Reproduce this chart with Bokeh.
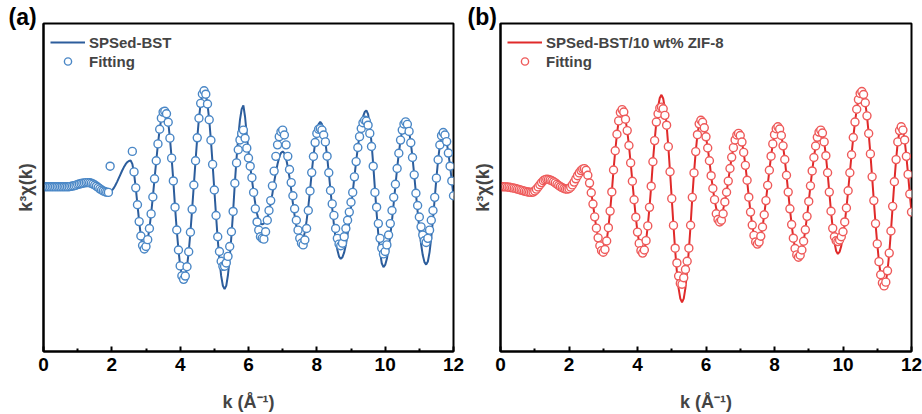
from bokeh.plotting import figure
from bokeh.layouts import row
from bokeh.models import Legend, LegendItem, FixedTicker, ColumnDataSource, Title
from bokeh.embed import file_html
from bokeh.resources import INLINE

nan = float("nan")

# k grid (Å^-1), sampled every 0.05
K_STEP = 0.05
K = [round(i * K_STEP, 2) for i in range(241)]

X_TICKS = [0, 2, 4, 6, 8, 10, 12]
X_MINOR = [1, 3, 5, 7, 9, 11]

LABEL_A = "SPSed-BST"
LABEL_B = "SPSed-BST/10 wt% ZIF-8"
FIT_LABEL = "Fitting"

# panel (a): measured k^3 chi(k)
A_LINE = [
    0.05, 0.05, 0.05, 0.05, 0.05, 0.05, 0.05, 0.05, 0.05, 0.05, 0.05, 0.05, 0.05, 0.05, 0.05, 0.05, 0.07, 0.09, 0.11, 0.14,
    0.18, 0.21, 0.24, 0.26, 0.28, 0.3, 0.3, 0.29, 0.26, 0.21, 0.15, 0.08, 0.0, -0.08, -0.15, -0.21, -0.26, -0.29, -0.3, -0.27,
    -0.19, -0.06, 0.12, 0.33, 0.56, 0.79, 1.02, 1.23, 1.41, 1.54, 1.62, 1.65, 1.44, 0.86, -0.02, -1.05, -2.08, -2.96, -3.54, -3.75,
    -3.6, -3.18, -2.5, -1.61, -0.58, 0.53, 1.63, 2.66, 3.55, 4.23, 4.65, 4.8, 4.59, 3.98, 3.01, 1.79, 0.40, -1.20, -2.59, -3.81,
    -4.78, -5.39, -5.6, -5.40, -4.83, -3.92, -2.73, -1.33, 0.15, 1.63, 3.03, 4.22, 5.13, 5.70, 5.9, 5.69, 5.09, 4.13, 2.88, 1.41,
    -0.15, -1.71, -3.18, -4.43, -5.39, -5.99, -6.2, -5.98, -5.32, -4.27, -2.96, -1.46, 0.26, 1.76, 3.07, 4.12, 4.78, 5.0, 4.3, 3.2,
    2.2, 1.3, 0.5, -0.3, -1.0, -1.6, -2.0, -2.2, -2.25, -2.2, -2.1, -1.90, -1.48, -0.96, -0.37, 0.32, 0.91, 1.43, 1.85, 2.11,
    2.2, 2.09, 1.77, 1.25, 0.61, -0.13, -0.97, -1.71, -2.35, -2.87, -3.19, -3.3, -3.15, -2.72, -2.04, -1.19, -0.21, 0.91, 1.89, 2.74,
    3.42, 3.85, 4.0, 3.86, 3.44, 2.78, 1.91, 0.90, -0.18, -1.25, -2.26, -3.13, -3.79, -4.21, -4.35, -4.25, -3.96, -3.49, -2.86, -2.09,
    -1.23, -0.30, 0.65, 1.58, 2.44, 3.21, 3.84, 4.31, 4.60, 4.7, 4.47, 3.79, 2.73, 1.41, -0.08, -1.56, -2.88, -3.94, -4.62, -4.85,
    -4.72, -4.35, -3.74, -2.94, -2.01, -0.96, 0.11, 1.16, 2.09, 2.89, 3.50, 3.87, 4.0, 3.85, 3.42, 2.73, 1.83, 0.77, -0.35, -1.47,
    -2.53, -3.43, -4.12, -4.55, -4.7, -4.51, -3.94, -3.04, -1.92, -0.67, 0.57, 1.69, 2.59, 3.16, 3.35, 3.2, 2.8, 2.1, 1.3, 0.4,
    -0.5,
]

# panel (a): fitting points
A_FIT = [
    0.05, 0.05, 0.05, 0.05, 0.05, 0.05, 0.05, 0.05, 0.05, 0.05, 0.05, 0.05, 0.05, 0.05, 0.05, 0.05, 0.07, 0.09, 0.11, 0.14,
    0.18, 0.21, 0.24, 0.26, 0.28, 0.3, 0.3, 0.29, 0.26, 0.21, 0.15, 0.08, 0.0, -0.08, -0.15, -0.21, -0.26, -0.29, -0.3, 1.3,
    nan, nan, nan, nan, nan, nan, nan, nan, nan, nan, nan, nan, 2.2, 0.95, -0.02, -1.05, -2.08, -2.96, -3.54, -3.75,
    -3.6, -3.18, -2.5, -1.61, -0.58, 0.53, 1.63, 2.66, 3.55, 4.23, 4.6, 4.65, 4.5, 3.98, 3.01, 1.79, 0.40, -1.20, -2.59, -3.81,
    -4.78, -5.39, -5.6, -5.40, -4.83, -3.92, -2.73, -1.33, 0.15, 1.63, 3.03, 4.22, 5.13, 5.70, 5.9, 5.69, 5.09, 4.13, 2.88, 1.41,
    -0.15, -1.71, -3.0, -3.9, -4.5, -4.8, -4.8, -4.6, -4.2, -3.6, -2.7, -1.46, 0.26, 1.5, 2.3, 2.9, 3.3, 3.5, 3.0, 2.4,
    1.8, 1.3, 0.6, -0.3, -1.3, -2.1, -2.6, -3.0, -3.1, -3.15, -2.7, -2.0, -1.4, -0.8, 0.1, 1.0, 1.9, 2.6, 3.1, 3.4,
    3.5, 3.2, 2.6, 1.9, 1.1, 0.3, -0.5, -1.3, -2.0, -2.6, -3.1, -3.4, -3.5, -3.2, -2.5, -1.4, -0.21, 0.91, 1.89, 2.74,
    3.3, 3.55, 3.6, 3.5, 3.2, 2.78, 1.91, 0.90, -0.18, -1.0, -1.7, -2.5, -3.1, -3.45, -3.55, -3.4, -3.0, -2.5, -2.0, -1.5,
    -0.9, -0.3, 0.65, 1.58, 2.44, 3.1, 3.6, 3.95, 4.1, 4.05, 3.8, 3.3, 2.5, 1.3, -0.3, -1.2, -2.2, -3.1, -3.7, -4.05,
    -3.9, -3.5, -2.9, -2.2, -1.4, -0.6, 0.2, 1.16, 2.09, 2.89, 3.50, 3.87, 4.0, 3.85, 3.42, 2.73, 1.83, 0.77, -0.35, -1.1,
    -1.8, -2.4, -2.9, -3.25, -3.35, -3.1, -2.6, -2.0, -1.4, -0.6, 0.57, 1.69, 2.59, 3.16, 3.35, 3.2, 2.8, 2.1, 1.3, 0.4,
    -0.5,
]

# panel (b): measured k^3 chi(k)
B_LINE = [
    0.05, 0.05, 0.05, 0.04, 0.03, 0.02, 0.0, -0.02, -0.04, -0.07, -0.1, -0.13, -0.16, -0.19, -0.22, -0.25, -0.27, -0.29, -0.3, -0.28,
    -0.21, -0.1, 0.03, 0.17, 0.3, 0.41, 0.48, 0.5, 0.49, 0.46, 0.41, 0.35, 0.28, 0.2, 0.12, 0.05, -0.01, -0.06, -0.09, -0.1,
    -0.07, 0.02, 0.16, 0.33, 0.53, 0.72, 0.89, 1.03, 1.12, 1.15, 1.05, 0.75, 0.27, -0.32, -1.01, -1.79, -2.48, -3.07, -3.55, -3.85,
    -3.95, -3.78, -3.26, -2.45, -1.44, -0.27, 1.07, 2.24, 3.25, 4.06, 4.58, 4.75, 4.60, 4.16, 3.47, 2.56, 1.50, 0.38, -0.75, -1.81,
    -2.72, -3.41, -3.85, -4.0, -3.81, -3.24, -2.34, -1.21, 0.08, 1.57, 2.86, 3.99, 4.89, 5.46, 5.65, 5.43, 4.80, 3.80, 2.49, 0.96,
    -0.68, -2.31, -3.84, -5.15, -6.15, -6.78, -7.0, -6.78, -6.12, -5.09, -3.79, -2.30, -0.60, 0.89, 2.19, 3.22, 3.88, 4.1, 3.98, 3.64,
    3.09, 2.41, 1.63, 0.72, -0.06, -0.74, -1.29, -1.63, -1.75, -1.65, -1.35, -0.88, -0.29, 0.39, 1.16, 1.84, 2.43, 2.90, 3.20, 3.3,
    3.17, 2.77, 2.14, 1.35, 0.44, -0.59, -1.50, -2.29, -2.92, -3.32, -3.45, -3.33, -2.97, -2.41, -1.66, -0.80, 0.13, 1.05, 1.91, 2.66,
    3.22, 3.58, 3.7, 3.57, 3.17, 2.54, 1.71, 0.75, -0.28, -1.30, -2.26, -3.09, -3.72, -4.11, -4.25, -4.13, -3.81, -3.28, -2.58, -1.76,
    -0.85, 0.10, 1.01, 1.83, 2.53, 3.06, 3.38, 3.5, 3.32, 2.78, 1.94, 0.90, -0.28, -1.45, -2.49, -3.33, -3.87, -4.05, -3.93, -3.56,
    -2.97, -2.19, -1.25, -0.20, 0.90, 2.0, 3.05, 3.99, 4.77, 5.36, 5.73, 5.85, 5.67, 5.17, 4.37, 3.29, 2.05, 0.65, -0.80, -2.20,
    -3.44, -4.52, -5.32, -5.82, -6.0, -5.77, -5.08, -4.0, -2.65, -1.15, 0.35, 1.70, 2.78, 3.47, 3.7, 3.5, 2.9, 1.9, 0.8, -0.4,
    -1.5,
]

# panel (b): fitting points
B_FIT = [
    0.05, 0.05, 0.05, 0.04, 0.03, 0.02, 0.0, -0.02, -0.04, -0.07, -0.1, -0.13, -0.16, -0.19, -0.22, -0.25, -0.27, -0.29, -0.3, -0.28,
    -0.21, -0.1, 0.03, 0.17, 0.3, 0.41, 0.48, 0.5, 0.49, 0.46, 0.41, 0.35, 0.28, 0.2, 0.12, 0.05, -0.01, -0.06, -0.09, -0.1,
    -0.07, 0.02, 0.16, 0.33, 0.53, 0.72, 0.89, 1.03, 1.12, 1.15, 1.05, 0.75, 0.27, -0.32, -1.01, -1.79, -2.48, -3.07, -3.55, -3.85,
    -3.95, -3.78, -3.26, -2.45, -1.44, -0.27, 1.07, 2.24, 3.25, 4.06, 4.58, 4.75, 4.60, 4.16, 3.47, 2.56, 1.50, 0.38, -0.75, -1.81,
    -2.72, -3.41, -3.85, -4.0, -3.81, -3.24, -2.34, -1.21, 0.08, 1.57, 2.86, 3.99, 4.5, 4.85, 4.9, 4.8, 4.4, 3.80, 2.49, 0.96,
    -0.68, -2.31, -3.7, -4.6, -5.4, -5.85, -5.9, -5.5, -5.0, -4.5, -3.7, -2.30, -0.60, 0.89, 2.19, 3.22, 3.88, 4.1, 3.98, 3.64,
    3.09, 2.41, 1.63, 0.72, -0.06, -0.74, -1.6, -1.95, -2.1, -2.0, -1.6, -0.88, -0.29, 0.39, 1.16, 1.84, 2.43, 2.90, 3.20, 3.3,
    3.17, 2.77, 2.14, 1.35, 0.44, -0.59, -1.50, -2.29, -2.92, -3.32, -3.45, -3.33, -2.97, -2.41, -1.66, -0.80, 0.13, 1.05, 1.91, 2.66,
    3.22, 3.58, 3.7, 3.57, 3.17, 2.54, 1.71, 0.75, -0.28, -1.30, -2.26, -3.09, -3.72, -4.11, -4.25, -4.13, -3.81, -3.28, -2.58, -1.76,
    -0.85, 0.10, 1.01, 1.83, 2.53, 3.06, 3.38, 3.5, 3.32, 2.78, 1.94, 0.90, -0.28, -1.45, -2.49, -3.0, -3.25, -3.3, -3.2, -3.0,
    -2.7, -2.1, -1.25, -0.20, 0.90, 2.0, 3.05, 3.99, 4.77, 5.36, 5.73, 5.85, 5.67, 5.17, 4.37, 3.29, 2.05, 0.65, -0.80, -2.20,
    -3.44, -4.52, -5.32, -5.82, -6.0, -5.77, -5.08, -4.0, -2.65, -1.15, 0.35, 1.70, 2.78, 3.47, 3.7, 3.5, 2.9, 1.9, 0.8, -0.4,
    -1.5,
]

FONT = "Liberation Sans"


def make_panel(line_vals, fit_vals, line_color, fit_color, series_label, tag,
               width, border_left, border_right, tag_offset):
    p = figure(width=width, height=414, x_range=(0, 12), y_range=(-10, 10),
               output_backend="svg", toolbar_location=None,
               min_border_left=border_left, min_border_right=border_right,
               min_border_top=23, min_border_bottom=61,
               background_fill_color="white", border_fill_color="white",
               outline_line_color="black", outline_line_width=2)
    p.grid.visible = False

    xa = p.xaxis[0]
    xa.ticker = FixedTicker(ticks=X_TICKS, minor_ticks=X_MINOR)
    xa.major_tick_in = 5
    xa.major_tick_out = 0
    xa.minor_tick_in = 3
    xa.minor_tick_out = 0
    xa.axis_line_width = 2
    xa.major_tick_line_width = 2
    xa.minor_tick_line_width = 2
    xa.major_label_text_font = FONT
    xa.major_label_text_font_style = "bold"
    xa.major_label_text_font_size = "19px"
    xa.major_label_text_color = "black"
    xa.major_label_standoff = 6
    xa.axis_label = "k (Å⁻¹)"
    xa.axis_label_text_font = FONT
    xa.axis_label_text_font_style = "bold"
    xa.axis_label_text_font_size = "18px"
    xa.axis_label_standoff = 18

    ya = p.yaxis[0]
    ya.ticker = FixedTicker(ticks=[])
    ya.major_tick_in = 0
    ya.major_tick_out = 0
    ya.minor_tick_in = 0
    ya.minor_tick_out = 0
    ya.axis_line_width = 2
    ya.major_label_standoff = 0
    ya.axis_label = "k³χ(k)"
    ya.axis_label_text_font = FONT
    ya.axis_label_text_font_style = "bold"
    ya.axis_label_text_font_size = "18px"
    ya.axis_label_standoff = 8

    src = ColumnDataSource(dict(k=K, line=line_vals, fit=fit_vals))
    ln = p.line("k", "line", source=src, line_color=line_color, line_width=2)
    sc = p.scatter("k", "fit", source=src, marker="circle", size=8,
                   fill_color="white", line_color=fit_color, line_width=1.4)

    legend = Legend(items=[LegendItem(label=series_label, renderers=[ln]),
                           LegendItem(label=FIT_LABEL, renderers=[sc])],
                    location=(7, 281), margin=0, padding=0, spacing=1,
                    glyph_width=35, glyph_height=18, label_height=18,
                    label_standoff=4,
                    label_text_font=FONT, label_text_font_style="bold",
                    label_text_font_size="15px",
                    border_line_alpha=0, background_fill_alpha=0)
    p.add_layout(legend)

    # panel tag "(a)" / "(b)" at the top-left corner, outside the frame
    t = Title(text=tag, align="left", offset=tag_offset,
              text_font=FONT, text_font_style="bold", text_font_size="23px",
              vertical_align="bottom", text_color="black")
    try:
        t.standoff = -13
    except Exception:
        t.standoff = 0
    p.add_layout(t, "above")
    return p


pa = make_panel(A_LINE, A_FIT, "#2c5d9c", "#4a87c6", LABEL_A, "(a)",
                466, 43, 13, -35)
pb = make_panel(B_LINE, B_FIT, "#e02a2a", "#ee5a5a", LABEL_B, "(b)",
                456, 34, 11, -33)

layout = row(pa, pb)
open("out.html", "w").write(file_html(layout, INLINE))
